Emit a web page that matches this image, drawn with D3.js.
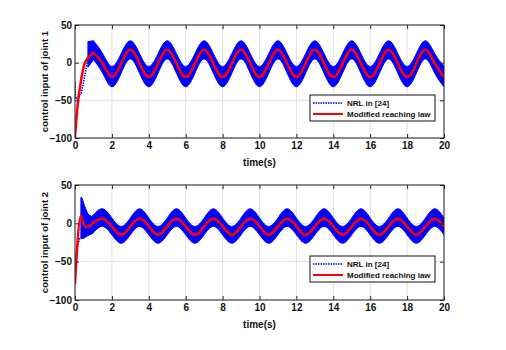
<!DOCTYPE html>
<html>
<head>
<meta charset="utf-8">
<script src="https://cdn.jsdelivr.net/npm/d3@7"></script>
<style>
  body { margin: 0; background: #fff; }
  svg { display: block; }
  text { font-family: "Liberation Sans", Arial, sans-serif; font-weight: bold; }
</style>
</head>
<body>
<svg id="chart" width="506" height="350"></svg>
<script>
// ---------- data ----------
const xTicks = [0, 2, 4, 6, 8, 10, 12, 14, 16, 18, 20];
const yTicks = [-100, -50, 0, 50];
const seriesNames = ["NRL in [24]", "Modified reaching law"];
const yLabels = ["control input of joint 1", "control input of joint 2"];
const xLabel = "time(s)";

// Joint 1 — modified reaching law (red)
const j1RedT = [0, 0.15, 0.3, 0.5, 0.75, 1, 1.5, 2, 2.5, 3, 3.5, 4, 4.5, 5, 5.5, 6, 6.5, 7, 7.5, 8, 8.5, 9, 9.5, 10, 10.5, 11, 11.5, 12, 12.5, 13, 13.5, 14, 14.5, 15, 15.5, 16, 16.5, 17, 17.5, 18, 18.5, 19, 19.5, 20];
const j1RedV = [-98, -55, -28, -3, 8, 13, -1, -19, -1, 17, -1, -19, -1, 17, -1, -19, -1, 17, -1, -19, -1, 17, -1, -19, -1, 17, -1, -19, -1, 17, -1, -19, -1, 17, -1, -19, -1, 17, -1, -19, -1, 17, -1, -19];
// Joint 1 — NRL in [24] (blue): start-up trace, then chattering band envelope
const j1NrlT = [0, 0.03, 0.15, 0.35, 0.55, 0.7];
const j1NrlV = [-25, -48, -46, -40, -15, 5];
const j1BandT = [0.7, 1, 1.5, 2, 2.5, 3, 3.5, 4, 4.5, 5, 5.5, 6, 6.5, 7, 7.5, 8, 8.5, 9, 9.5, 10, 10.5, 11, 11.5, 12, 12.5, 13, 13.5, 14, 14.5, 15, 15.5, 16, 16.5, 17, 17.5, 18, 18.5, 19, 19.5, 20];
const j1BandHi = [28, 29, 12, -5, 12, 29, 12, -5, 12, 29, 12, -5, 12, 29, 12, -5, 12, 29, 12, -5, 12, 29, 12, -5, 12, 29, 12, -5, 12, 29, 12, -5, 12, 29, 12, -5, 12, 29, 12, -5];
const j1BandLo = [-6, 4, -14, -32, -14, 5, -14, -32, -14, 5, -14, -32, -14, 5, -14, -32, -14, 5, -14, -32, -14, 5, -14, -32, -14, 5, -14, -32, -14, 5, -14, -32, -14, 5, -14, -32, -14, 5, -14, -32];

// Joint 2 — modified reaching law (red)
const j2RedT = [0, 0.32, 0.45, 0.6, 0.8, 1, 1.5, 2, 2.5, 3, 3.5, 4, 4.5, 5, 5.5, 6, 6.5, 7, 7.5, 8, 8.5, 9, 9.5, 10, 10.5, 11, 11.5, 12, 12.5, 13, 13.5, 14, 14.5, 15, 15.5, 16, 16.5, 17, 17.5, 18, 18.5, 19, 19.5, 20];
const j2RedV = [-78, 10, 0, -5, -3, 1, 6, -4, -15, -4, 6, -4, -15, -4, 6, -4, -15, -4, 6, -4, -15, -4, 6, -4, -15, -4, 6, -4, -15, -4, 6, -4, -15, -4, 6, -4, -15, -4, 6, -4, -15, -4, 6, -4];
// Joint 2 — NRL in [24] (blue)
const j2NrlT = [0, 0.12, 0.25, 0.32];
const j2NrlV = [-50, -32, -20, -18];
const j2BandT = [0.32, 0.38, 0.5, 0.7, 0.9, 1, 1.5, 2, 2.5, 3, 3.5, 4, 4.5, 5, 5.5, 6, 6.5, 7, 7.5, 8, 8.5, 9, 9.5, 10, 10.5, 11, 11.5, 12, 12.5, 13, 13.5, 14, 14.5, 15, 15.5, 16, 16.5, 17, 17.5, 18, 18.5, 19, 19.5, 20];
const j2BandHi = [34, 33, 24, 12, 9, 11, 19, 7, -4, 7, 19, 7, -4, 7, 19, 7, -4, 7, 19, 7, -4, 7, 19, 7, -4, 7, 19, 7, -4, 7, 19, 7, -4, 7, 19, 7, -4, 7, 19, 7, -4, 7, 19, 7];
const j2BandLo = [-20, -20, -19, -16, -14, -12, -4, -15, -26, -15, -4, -15, -26, -15, -4, -15, -26, -15, -4, -15, -26, -15, -4, -15, -26, -15, -4, -15, -26, -15, -4, -15, -26, -15, -4, -15, -26, -15, -4, -15, -26, -15, -4, -15];

// ---------- drawing ----------
const svg = d3.select("#chart");
const BLUE = "#0000ff", RED = "#ff0000", AX = "#262626", GRID = "#e0e0e0";
const SPLIT_T = 1; // start-up part drawn with straight segments, steady part with a smooth spline

const panels = [
  { top: 25, bottom: 138, redT: j1RedT, redV: j1RedV, nrlT: j1NrlT, nrlV: j1NrlV,
    bandT: j1BandT, hi: j1BandHi, lo: j1BandLo, ylab: yLabels[0], legY: 95 },
  { top: 185, bottom: 300, redT: j2RedT, redV: j2RedV, nrlT: j2NrlT, nrlV: j2NrlV,
    bandT: j2BandT, hi: j2BandHi, lo: j2BandLo, ylab: yLabels[1], legY: 256 }
];

const left = 75, right = 444;

panels.forEach((p, i) => {
  const x = d3.scaleLinear().domain([0, 20]).range([left, right]);
  const y = d3.scaleLinear().domain([-100, 50]).range([p.bottom, p.top]);
  const g = svg.append("g");

  const clipId = "clip" + i;
  svg.append("clipPath").attr("id", clipId).append("rect")
    .attr("x", left).attr("y", p.top).attr("width", right - left).attr("height", p.bottom - p.top);

  // grid
  g.append("g").selectAll("line").data(xTicks).join("line")
    .attr("x1", d => x(d)).attr("x2", d => x(d)).attr("y1", p.top).attr("y2", p.bottom)
    .attr("stroke", GRID).attr("stroke-width", 1);
  g.append("g").selectAll("line").data(yTicks).join("line")
    .attr("x1", left).attr("x2", right).attr("y1", d => y(d)).attr("y2", d => y(d))
    .attr("stroke", GRID).attr("stroke-width", 1);

  const plot = g.append("g").attr("clip-path", `url(#${clipId})`);

  // blue band (two pieces: start-up linear, steady smooth)
  const bandData = p.bandT.map((t, k) => ({ t, hi: p.hi[k], lo: p.lo[k] }));
  const bandA = bandData.filter(d => d.t <= SPLIT_T);
  const bandB = bandData.filter(d => d.t >= SPLIT_T);
  const areaGen = c => d3.area().x(d => x(d.t)).y0(d => y(d.lo)).y1(d => y(d.hi)).curve(c);
  [[bandA, d3.curveLinear], [bandB, d3.curveNatural]].forEach(([dat, c]) => {
    if (dat.length < 2) return;
    plot.append("path").datum(dat).attr("d", areaGen(c))
      .attr("fill", BLUE).attr("stroke", BLUE).attr("stroke-width", 1);
  });

  // blue start-up dotted trace
  const nrlData = p.nrlT.map((t, k) => ({ t, v: p.nrlV[k] }));
  plot.append("path").datum(nrlData)
    .attr("d", d3.line().x(d => x(d.t)).y(d => y(d.v)))
    .attr("fill", "none").attr("stroke", BLUE).attr("stroke-width", 1.5)
    .attr("stroke-dasharray", "1.5,1");

  // red (start-up linear, steady smooth)
  const redData = p.redT.map((t, k) => ({ t, v: p.redV[k] }));
  const lineGen = c => d3.line().x(d => x(d.t)).y(d => y(d.v)).curve(c);
  [[redData.filter(d => d.t <= SPLIT_T), d3.curveMonotoneX], [redData.filter(d => d.t >= SPLIT_T), d3.curveNatural]]
    .forEach(([dat, c]) => {
      plot.append("path").datum(dat).attr("d", lineGen(c))
        .attr("fill", "none").attr("stroke", RED).attr("stroke-width", 2.5)
        .attr("stroke-linejoin", "round").attr("stroke-linecap", "round");
    });

  // axes
  const styleAxis = sel => {
    sel.select(".domain").remove();
    sel.selectAll(".tick line").attr("stroke", AX);
    sel.selectAll(".tick text").attr("fill", "#111").style("font-size", "10px")
      .style("font-family", '"Liberation Sans", Arial, sans-serif').style("font-weight", "bold");
  };
  g.append("g").attr("transform", `translate(0,${p.bottom})`)
    .call(d3.axisBottom(x).tickValues(xTicks).tickSize(-4).tickPadding(4).tickFormat(d3.format("d")))
    .call(styleAxis);
  g.append("g").attr("transform", `translate(0,${p.top})`)
    .call(d3.axisTop(x).tickValues(xTicks).tickSize(-4).tickFormat(""))
    .call(styleAxis);
  g.append("g").attr("transform", `translate(${left},0)`)
    .call(d3.axisLeft(y).tickValues(yTicks).tickSize(-4).tickPadding(3).tickFormat(d3.format("d")))
    .call(styleAxis);
  g.append("g").attr("transform", `translate(${right},0)`)
    .call(d3.axisRight(y).tickValues(yTicks).tickSize(-4).tickFormat(""))
    .call(styleAxis);

  // box
  g.append("rect").attr("x", left).attr("y", p.top).attr("width", right - left).attr("height", p.bottom - p.top)
    .attr("fill", "none").attr("stroke", AX).attr("stroke-width", 1);

  // labels
  g.append("text").attr("x", (left + right) / 2).attr("y", p.bottom + 28)
    .attr("text-anchor", "middle").style("font-size", "10px").attr("fill", "#111").text(xLabel);
  g.append("text").attr("transform", `translate(48,${(p.top + p.bottom) / 2}) rotate(-90)`)
    .attr("text-anchor", "middle").style("font-size", "9.6px").attr("fill", "#111").text(p.ylab);

  // legend
  const lg = g.append("g").attr("transform", `translate(310,${p.legY})`);
  lg.append("rect").attr("width", 125).attr("height", 26).attr("fill", "#fff")
    .attr("stroke", "#111").attr("stroke-width", 1);
  lg.append("line").attr("x1", 3).attr("x2", 33).attr("y1", 8).attr("y2", 8)
    .attr("stroke", BLUE).attr("stroke-width", 1.5).attr("stroke-dasharray", "1.5,1");
  lg.append("line").attr("x1", 3).attr("x2", 33).attr("y1", 19).attr("y2", 19)
    .attr("stroke", RED).attr("stroke-width", 2);
  lg.append("text").attr("x", 37).attr("y", 11).style("font-size", "8px").attr("fill", "#111").text(seriesNames[0]);
  lg.append("text").attr("x", 37).attr("y", 22).style("font-size", "8px").attr("fill", "#111").text(seriesNames[1]);
});
</script>
</body>
</html>
